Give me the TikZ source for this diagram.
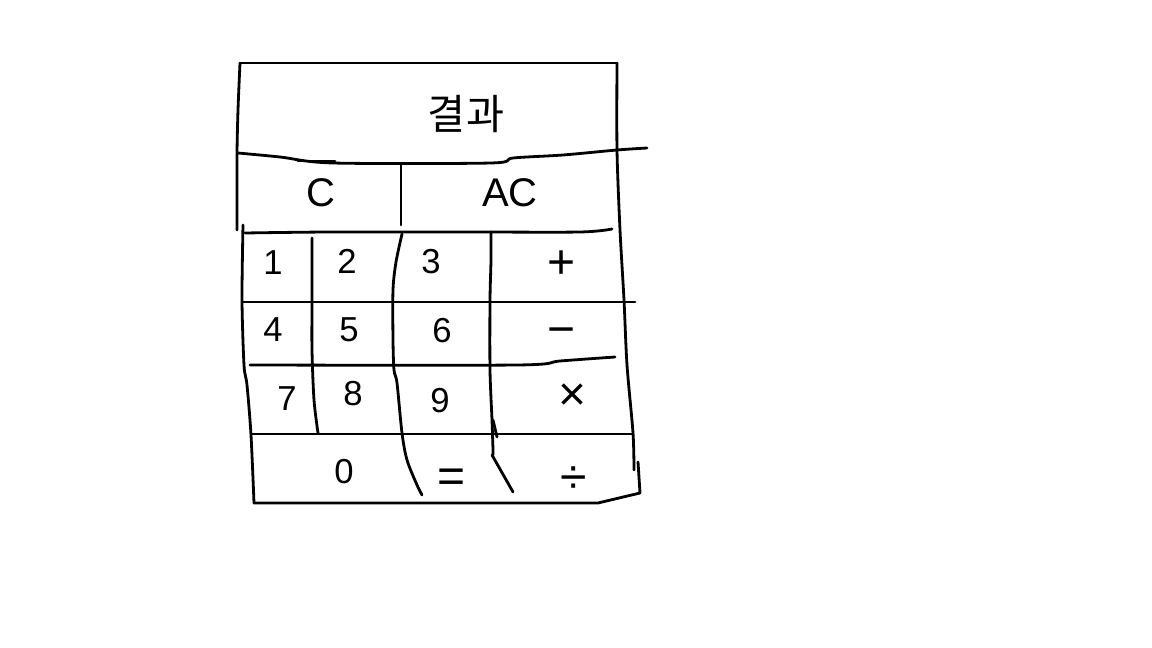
\documentclass[tikz,border=0pt]{standalone}
\usepackage{fontspec}
\setmainfont{Liberation Sans}
\newfontfamily\krfont{Noto Sans CJK KR}
\begin{document}
\begin{tikzpicture}[x=0.75pt,y=-0.75pt,
  pen/.style={line width=2.1pt,line cap=round,line join=round,black},
  key/.style={font=\fontsize{26}{28}\selectfont,inner sep=0pt,text height=18.7pt,text depth=0pt},
  opkey/.style={font=\fontsize{36}{38}\selectfont,inner sep=0pt,text height=25.9pt,text depth=0pt},
  bigkey/.style={font=\fontsize{30}{32}\selectfont,inner sep=0pt,text height=21.5pt,text depth=0pt}]
\useasboundingbox[fill=white] (0,0) rectangle (1152,648);
% outer frame
\draw[pen] (240,63) -- (617,63);
\draw[pen] plot[smooth] coordinates {(240,63) (238,110) (237,155) (237,230)};
\draw[pen] plot[smooth] coordinates {(243,225) (242,300) (244,365) (247,385) (251,435) (254,503)};
\draw[pen] (254,503) -- (598,503) -- (640,493) -- (638,462);
\draw[pen] plot[smooth] coordinates {(617,63) (617,150) (620,230) (624,300) (627,365) (633,433) (634,470)};
% under result
\draw[pen] plot[smooth] coordinates {(238,153) (280,157) (333,163) (491,163) (513,158) (563,155) (617,150) (647,148)};
\draw[pen] (298,161) -- (335,161);
% C / AC divider
\draw[pen] (401,165) -- (401,225);
% under C / AC
\draw[pen] plot[smooth] coordinates {(245,233) (330,232) (470,232) (580,232) (612,229)};
% grid verticals
\draw[pen] plot[smooth] coordinates {(312,238) (312,300) (312,350) (314,400) (318,433)};
\draw[pen] plot[smooth] coordinates {(402,234) (396,262) (393,290) (393,340) (394,370) (397,383) (402,433) (407,460) (417,485) (422,495)};
\draw[pen] plot[smooth] coordinates {(491,232) (491,260) (490,300) (490,370) (492,420) (493,450) (493,455)};
\draw[pen] (492,455) -- (513,492);
\draw[pen] (493,420) -- (497,437);
% grid horizontals
\draw[pen] (243,302) -- (635,302);
\draw[pen] plot[smooth] coordinates {(250,365) (517,365) (560,361) (615,357)};
\draw[pen] (252,434) -- (633,434);
% labels
\node[inner sep=0pt,font=\krfont\fontsize{31}{33}\selectfont] (result) at (466,114) {결과};
\node[bigkey] (kc) at (321,192) {C};
\node[bigkey] (kac) at (510,192) {AC};
\node[key] (k1) at (273,262) {1};
\node[key] (k2) at (347,261) {2};
\node[key] (k3) at (431,261) {3};
\node[opkey] (kplus) at (562,261) {+};
\node[key] (k4) at (273,329) {4};
\node[key] (k5) at (349,329) {5};
\node[key] (k6) at (442,330) {6};
\node[opkey] (kminus) at (562,328) {−};
\node[key] (k7) at (287,398) {7};
\node[key] (k8) at (353,393) {8};
\node[key] (k9) at (440,400) {9};
\node[opkey] (ktimes) at (573,393) {×};
\node[key] (k0) at (344,471) {0};
\node[opkey] (keq) at (452,475) {=};
\node[opkey] (kdiv) at (574,476) {÷};
\end{tikzpicture}
\end{document}
